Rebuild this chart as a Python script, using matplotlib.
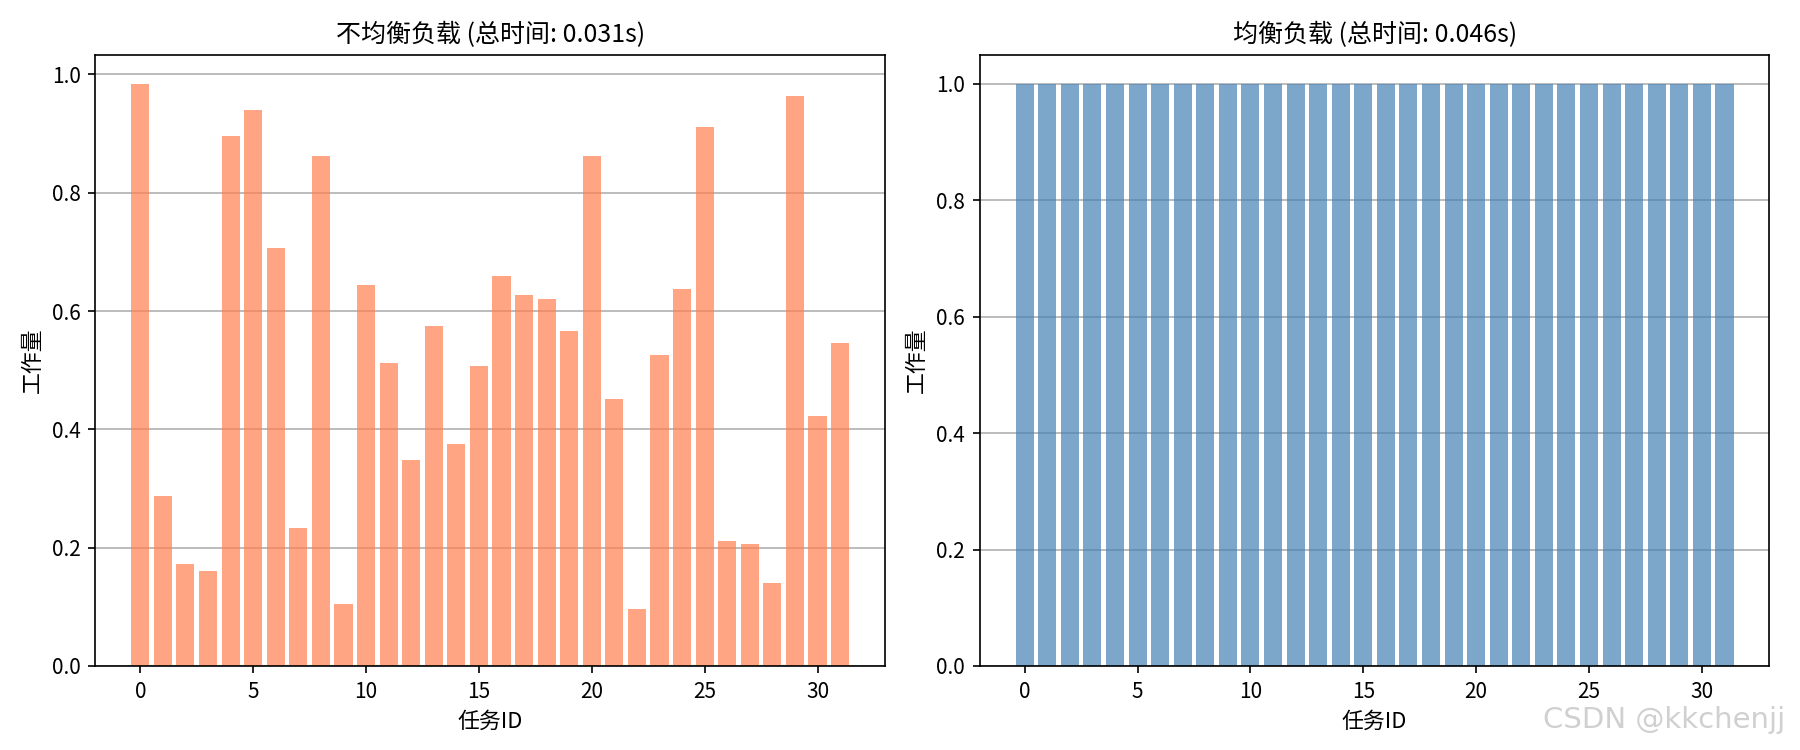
import matplotlib
matplotlib.use('Agg')
import matplotlib.pyplot as plt
import numpy as np

plt.rcParams['font.family'] = ['Noto Sans CJK SC', 'DejaVu Sans']
plt.rcParams['axes.unicode_minus'] = False

# 数据
task_ids = list(range(32))
unbalanced = [0.984, 0.288, 0.173, 0.160, 0.896, 0.940, 0.706, 0.234,
              0.862, 0.104, 0.644, 0.512, 0.349, 0.574, 0.375, 0.507,
              0.659, 0.627, 0.620, 0.566, 0.862, 0.451, 0.097, 0.526,
              0.637, 0.911, 0.212, 0.206, 0.141, 0.964, 0.423, 0.546]
balanced = [1.0] * 32
titles = ['不均衡负载 (总时间: 0.031s)', '均衡负载 (总时间: 0.046s)']

fig, axes = plt.subplots(1, 2, figsize=(12, 5), dpi=150)

axes[0].bar(task_ids, unbalanced, color='coral', alpha=0.7)
axes[1].bar(task_ids, balanced, color='steelblue', alpha=0.7)

for ax, title in zip(axes, titles):
    ax.set_title(title, fontsize=12)
    ax.set_xlabel('任务ID', fontsize=10.5)
    ax.set_ylabel('工作量', fontsize=10.5)
    ax.grid(axis='y', color='#b0b0b0')
    ax.set_axisbelow(True)

plt.subplots_adjust(left=0.053, right=0.983, bottom=0.112, top=0.927, wspace=0.12)

# 水印
fig.text(0.992, 0.04, 'CSDN @kkchenjj', ha='right', va='center', fontsize=14,
         color='#d0d0d0', family=['DejaVu Sans'])

plt.savefig('out.png')
